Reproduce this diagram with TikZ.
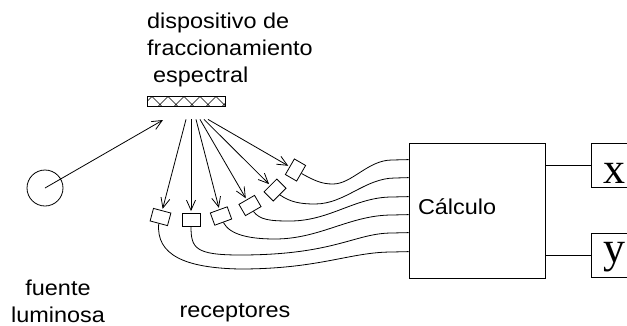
\documentclass[tikz,border=0pt]{standalone}
\usepackage{fontspec}
\setmainfont{Liberation Sans}[FakeStretch=1.09]
\newfontfamily\xyfont{Liberation Serif}
\usetikzlibrary{arrows.meta,calc}
\tikzset{
  ln/.style={line width=0.8pt},
  arr/.style={ln, -{Straight Barb[length=10pt,width=9pt,line width=0.8pt]}, shorten >=1.5pt},
  recv/.style={draw, ln, rectangle, minimum width=18pt, minimum height=13pt, inner sep=0pt, fill=white},
  lbl/.style={font=\fontsize{21.5}{27}\selectfont, inner sep=0pt},
  outbox/.style={draw, ln, minimum width=46pt, minimum height=44pt, inner sep=0pt, font=\xyfont\fontsize{44}{44}\selectfont},
}
\begin{document}
\begin{tikzpicture}[x=1pt,y=-1pt]
\useasboundingbox (0,0) rectangle (627,325);
\clip (0,0) rectangle (627,325);

% light source
\node[draw, ln, circle, minimum size=36pt, inner sep=0pt] (src) at (45,188) {};

% grating
\node[draw, ln, minimum width=78pt, minimum height=10pt, inner sep=0pt, path picture={
  \foreach \c in {-3,13,29,45,61,77} {
    \draw[line width=0.6pt] ($(path picture bounding box.north west)+(\c-8,0)$) -- ($(path picture bounding box.north west)+(\c+3,11)$)
      ($(path picture bounding box.north west)+(\c+8,0)$) -- ($(path picture bounding box.north west)+(\c-3,11)$);
  }
}] (grat) at (186,101.5) {};

% receptors
\node[recv, rotate=-15] (r1) at (160.5,217) {};
\node[recv] (r2) at (191,219.5) {};
\node[recv, rotate=20] (r3) at (221,216) {};
\node[recv, rotate=30] (r4) at (250,205.5) {};
\node[recv, rotate=45] (r5) at (275,190) {};
\node[recv, rotate=60] (r6) at (295.5,170) {};

% calculation box
\node[draw, ln, lbl, minimum width=136pt, minimum height=135pt, inner xsep=9pt, inner ysep=0pt, text width=118pt, align=left, text depth=8pt] (calc) at (477,210.5) {Cálculo};

% outputs
\node[outbox, text height=36pt, text depth=0pt] (xb) at (614,165) {x};
\node[outbox, text height=14pt, text depth=0pt] (yb) at (614,255) {y};
\draw[ln] (calc.east |- xb.west) -- (xb.west);
\draw[ln] (calc.east |- yb.west) -- (yb.west);

% light arrow
\coordinate (hit) at (163,120);
\draw[arr, shorten >=0pt] (src.center) -- (hit);

% dispersed rays
\foreach \i/\dx in {1/0,2/5,3/10,4/14,5/18,6/22} \coordinate (g\i) at ($(grat.south)+(\dx,12.5)$);
\foreach \i in {1,...,6} \draw[arr] (g\i) -- (r\i);

% inputs
\foreach \i/\dy in {1/17,2/35,3/54,4/72,5/90,6/109} \coordinate (in\i) at ($(calc.north west)+(0,\dy)$);

\draw[ln] (r6.south) .. controls (315,181) and (322,184) .. (333,184) .. controls (352,184) and (368,160) .. (392,160) -- (in1);
\draw[ln] (r5.south) .. controls (290,202) and (300,204) .. (315,204) .. controls (345,204) and (365,178) .. (395,178) -- (in2);
\draw[ln] (r4.south) .. controls (260,220) and (270,221) .. (290,221) .. controls (330,221) and (355,197) .. (392,197) -- (in3);
\draw[ln] (r3.south) .. controls (230,235) and (250,239) .. (275,239) .. controls (320,239) and (350,215) .. (392,215) -- (in4);
\draw[ln] (r2.south) .. controls (191,248) and (195,255) .. (240,255) .. controls (335,255) and (355,233) .. (392,233) -- (in5);
\draw[ln] (r1.south) .. controls (156,255) and (185,268) .. (240,269) .. controls (320,269) and (350,252) .. (392,252) -- (in6);

% labels
\node[lbl, align=left, anchor=base west] (dev) at (147,82) {dispositivo de\\fraccionamiento\\\hspace*{6pt}espectral};
\node[lbl, align=center, anchor=base] (fl) at (58,322.5) {fuente\\luminosa};
\node[lbl, anchor=base] (rec) at (235,317) {receptores};
\end{tikzpicture}
\end{document}
